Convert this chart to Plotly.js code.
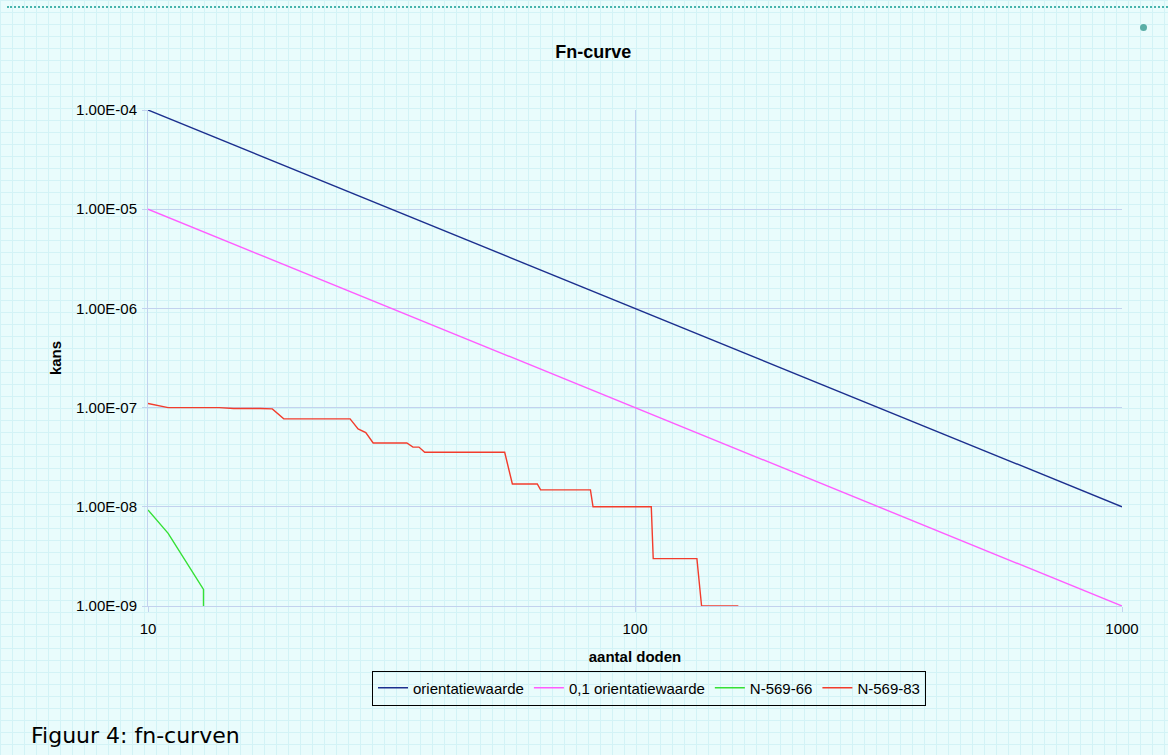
<!DOCTYPE html>
<html>
<head>
<meta charset="utf-8">
<script src="https://cdn.plot.ly/plotly-3.0.1.min.js"></script>
<style>
  html, body { margin: 0; padding: 0; }
  body {
    width: 1168px; height: 755px; overflow: hidden; position: relative;
    background-color: #e9fcfc;
    background-image:
      linear-gradient(#d3f3f6 1px, transparent 1px),
      linear-gradient(90deg, #d3f3f6 1px, transparent 1px);
    background-size: 12px 12px;
  }
  #topline { position: absolute; left: 7px; right: 0; top: 6px; height: 0; border-top: 2px dotted #48b4ac; }
  #dot { position: absolute; left: 1140px; top: 24px; width: 7px; height: 7px; border-radius: 50%; background: #5aaea6; }
  #chart { position: absolute; left: 0; top: 0; width: 1168px; height: 755px; }
</style>
</head>
<body>
<div id="topline"></div>
<div id="dot"></div>
<div id="chart"></div>
<script>
// ---- data ----
const orientX = [10, 1000];
const orientY = [1e-4, 1e-8];

const orient01X = [10, 1000];
const orient01Y = [1e-5, 1e-9];

const n66X = [10, 11, 13, 13];
const n66Y = [9.3e-9, 5.4e-9, 1.47e-9, 1e-9];

const n83X = [10, 11, 14, 15, 17, 18, 19, 26, 27, 28, 29, 34, 35, 36, 37, 54, 56, 63, 64, 81, 82, 108, 109, 134, 137, 163];
const n83Y = [1.1e-7, 1.0e-7, 1.0e-7, 9.8e-8, 9.8e-8, 9.7e-8, 7.7e-8, 7.7e-8, 6.1e-8, 5.6e-8, 4.4e-8, 4.4e-8, 4.0e-8, 4.0e-8, 3.55e-8, 3.55e-8, 1.7e-8, 1.7e-8, 1.48e-8, 1.48e-8, 1.0e-8, 1.0e-8, 3.0e-9, 3.0e-9, 1.0e-9, 1.0e-9];

const seriesNames = ['orientatiewaarde', '0,1 orientatiewaarde', 'N-569-66', 'N-569-83'];

const xTickVals = [10, 100, 1000];
const xTickText = ['10', '100', '1000'];
const yTickVals = [1e-9, 1e-8, 1e-7, 1e-6, 1e-5, 1e-4];
const yTickText = ['1.00E-09', '1.00E-08', '1.00E-07', '1.00E-06', '1.00E-05', '1.00E-04'];

// ---- chart ----
const FONT = 'Liberation Sans, Arial, sans-serif';
const gridCol = '#c2d2ee';

const traces = [
  { x: orientX, y: orientY, name: seriesNames[0], mode: 'lines', line: { color: '#1c2f8e', width: 1.4 } },
  { x: orient01X, y: orient01Y, name: seriesNames[1], mode: 'lines', line: { color: '#ff5cff', width: 1.4 } },
  { x: n66X, y: n66Y, name: seriesNames[2], mode: 'lines', line: { color: '#35e035', width: 1.4 } },
  { x: n83X, y: n83Y, name: seriesNames[3], mode: 'lines', line: { color: '#f23c2c', width: 1.4 } }
];

const layout = {
  width: 1168, height: 755,
  paper_bgcolor: 'rgba(0,0,0,0)',
  plot_bgcolor: 'rgba(0,0,0,0)',
  margin: { l: 148, r: 46, t: 110, b: 149 },
  font: { family: FONT, size: 15, color: '#000' },
  showlegend: true,
  hovermode: false,
  title: {
    text: '<b>Fn-curve</b>',
    font: { family: FONT, size: 18, color: '#000' },
    xref: 'container', x: 0.508, xanchor: 'center',
    yref: 'container', y: 1 - 52 / 755, yanchor: 'middle'
  },
  xaxis: {
    type: 'log', range: [1, 3],
    tickvals: xTickVals, ticktext: xTickText,
    showgrid: true, gridcolor: gridCol, gridwidth: 1,
    showline: true, linecolor: gridCol, linewidth: 1,
    ticks: 'outside', ticklen: 5, tickcolor: gridCol,
    ticklabelstandoff: 4,
    tickfont: { family: FONT, size: 15, color: '#000' },
    zeroline: false,
    title: { text: '<b>aantal doden</b>', font: { family: FONT, size: 15, color: '#000' }, standoff: 15 }
  },
  yaxis: {
    type: 'log', range: [-9, -4],
    tickvals: yTickVals, ticktext: yTickText,
    showgrid: true, gridcolor: gridCol, gridwidth: 1,
    showline: true, linecolor: gridCol, linewidth: 1,
    ticks: 'outside', ticklen: 5, tickcolor: gridCol,
    ticklabelstandoff: 2,
    tickfont: { family: FONT, size: 15, color: '#000' },
    zeroline: false,
    title: { text: '<b>kans</b>', font: { family: FONT, size: 15, color: '#000' }, standoff: 10 }
  },
  legend: {
    orientation: 'h',
    xref: 'paper', x: (649 - 148) / 974, xanchor: 'center',
    yref: 'paper', y: (606 - 688) / 496, yanchor: 'middle',
    bgcolor: 'rgba(0,0,0,0)', bordercolor: '#000', borderwidth: 1,
    font: { family: FONT, size: 15, color: '#000' },
    itemwidth: 30, tracegroupgap: 0
  },
  annotations: [
    {
      text: 'Figuur 4: fn-curven',
      xref: 'paper', x: (29 - 148) / 974, xanchor: 'left',
      yref: 'paper', y: (606 - 735) / 496, yanchor: 'middle',
      showarrow: false,
      font: { family: 'DejaVu Sans, Verdana, sans-serif', size: 22, color: '#000' }
    }
  ]
};

Plotly.newPlot('chart', traces, layout, { displayModeBar: false, staticPlot: true });
</script>
</body>
</html>
